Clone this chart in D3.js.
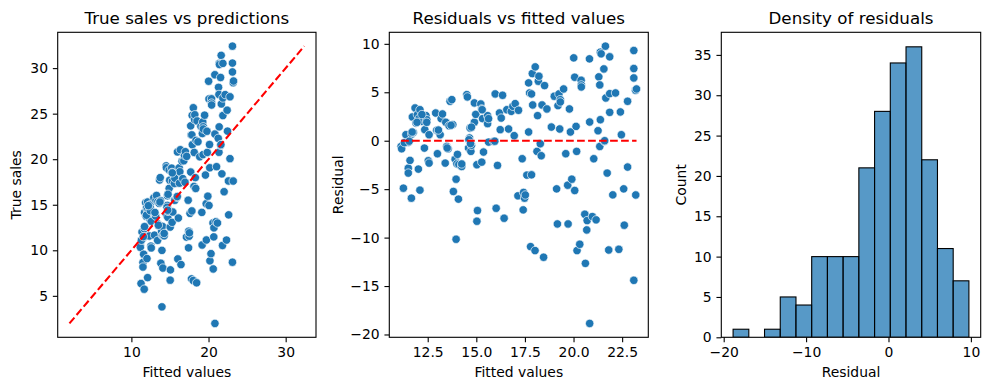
<!DOCTYPE html>
<html><head><meta charset="utf-8">
<script src="https://cdn.jsdelivr.net/npm/d3@7"></script>
<style>
body{margin:0;background:#fff}
text{font-family:"DejaVu Sans",sans-serif;fill:#000}
</style>
</head><body>
<svg id="c" width="989" height="390"></svg>
<script>
// ---- data ----
const fitted = [11.13,11.16,11.25,11.38,11.50,11.50,11.50,11.59,11.66,11.68,11.71,11.76,11.85,11.90,11.97,12.02,12.07,12.10,12.10,12.19,
12.33,12.35,12.41,12.45,12.53,12.57,12.57,12.91,12.96,13.00,13.05,13.14,13.19,13.26,13.40,13.43,13.48,13.55,13.60,13.65,
13.74,13.79,13.82,13.91,13.96,13.96,14.00,14.03,14.08,14.10,14.25,14.51,14.54,14.60,14.65,14.68,14.72,14.75,14.90,14.90,
14.97,15.03,15.06,15.03,15.23,15.27,15.28,15.32,15.37,15.58,15.58,15.63,15.63,15.89,15.97,16.02,16.09,16.19,16.23,16.28,
16.35,16.43,16.57,16.66,16.80,16.88,16.95,17.00,17.17,17.14,17.36,17.41,17.43,17.48,17.52,17.60,17.69,17.69,17.74,17.79,
17.84,17.84,17.88,17.90,18.03,18.02,18.12,18.15,18.19,18.22,18.29,18.34,18.38,18.46,18.51,18.63,18.86,19.01,19.13,19.17,
19.20,19.25,19.29,19.32,19.32,19.49,19.60,19.70,19.72,19.79,19.84,19.91,20.01,20.06,20.06,20.13,20.16,20.18,20.32,20.39,
20.40,20.40,20.58,20.61,20.68,20.70,20.82,20.83,20.83,20.97,21.04,21.16,21.26,21.30,21.35,21.35,21.38,21.42,21.38,21.56,
21.59,21.64,21.66,21.73,21.81,21.86,21.86,21.86,22.02,22.16,22.33,22.41,22.46,22.58,22.61,22.78,22.78,23.10,23.10,23.10,
23.10,23.19,23.24,23.20,14.25,11.30,13.50,14.62,14.70,15.95,11.55,21.60,11.70,11.95,12.45,13.05,13.70,14.75,12.20,15.30];

const residual = [-0.59,-0.83,-4.90,0.62,-0.17,-2.83,-3.34,-2.03,-5.93,0.69,2.45,0.86,3.38,1.83,2.69,-2.93,2.34,3.20,-5.10,2.00,
-0.76,1.14,2.59,2.17,-2.07,0.62,-2.31,2.86,1.07,-1.34,0.97,0.62,2.28,2.76,-2.31,1.90,-0.59,-0.83,1.55,4.07,
4.24,1.66,-5.24,-1.90,-3.97,-10.17,-2.38,-1.41,-6.03,-2.45,-2.66,4.76,4.52,-0.76,0.28,1.31,-1.10,-0.48,3.90,1.90,
2.72,-2.48,-7.21,-8.31,3.79,3.28,-2.21,2.28,-1.17,2.59,1.76,-0.14,2.28,-0.07,4.83,-6.97,-2.55,2.86,1.14,2.34,
4.69,-8.00,3.20,1.21,3.03,3.55,0.52,3.83,3.14,-5.69,-1.86,-7.14,-5.34,-5.93,-5.60,-3.55,5.97,0.90,4.93,-10.93,
4.83,-3.52,6.93,3.69,7.62,-11.34,-1.10,2.59,6.14,6.66,-0.31,-1.55,3.69,-12.03,5.69,3.28,1.41,4.59,-4.97,-8.59,
3.62,4.83,1.21,4.24,4.00,5.34,-1.34,-4.59,-8.59,3.28,0.90,-3.97,8.55,6.55,-5.14,1.48,-1.10,-11.34,-10.69,6.24,
5.76,5.55,-7.59,-12.66,-9.21,-8.24,8.45,1.93,-18.86,-7.83,-1.86,-8.17,1.03,6.59,-0.59,5.76,9.14,8.97,2.17,7.41,
-0.07,9.76,4.41,-3.34,-11.28,8.66,2.93,4.86,-5.59,4.93,-11.21,2.97,0.62,-4.97,-8.72,-2.72,4.07,9.31,7.45,6.48,
-14.41,5.21,5.34,-5.60,-2.40,-0.20,-0.75,0.10,-0.30,-0.05,-0.05,0.00,0.90,1.90,1.90,1.10,1.60,1.40,2.70,3.20];

const trueSales = fitted.map((f, i) => f + residual[i]);

const histCounts = [1,0,1,5,4,10,10,10,21,28,34,36,22,11,7];

const titles = ["True sales vs predictions", "Residuals vs fitted values", "Density of residuals"];
const xLabels = ["Fitted values", "Fitted values", "Residual"];
const yLabels = ["True sales", "Residual", "Count"];
const p1XTicks = [10, 20, 30];
const p1YTicks = [5, 10, 15, 20, 25, 30];
const p2XTicks = [12.5, 15, 17.5, 20, 22.5];
const p2YTicks = [-20, -15, -10, -5, 0, 5, 10];
const p3XTicks = [-20, -10, 0, 10];
const p3YTicks = [0, 5, 10, 15, 20, 25, 30, 35];

// ---- layout ----
const svg = d3.select("#c");
const TOP = 32.3, BOTTOM = 337.3;
const panels = [{l: 57.7, r: 316}, {l: 389.3, r: 648.3}, {l: 721.3, r: 980.7}];
const TICK = 4.86, PAD = 4.86, LW = 1.1;
const BLUE = "#1f77b4";

function pad(ext) { const m = (ext[1] - ext[0]) * 0.05; return [ext[0] - m, ext[1] + m]; }

function axes(i, xs, ys, xt, yt, xfmt, yfmt) {
  const p = panels[i];
  const g = svg.append("g");
  const gx = g.append("g").attr("transform", `translate(0,${BOTTOM})`)
    .call(d3.axisBottom(xs).tickValues(xt).tickFormat(xfmt).tickSize(TICK).tickPadding(PAD));
  const gy = g.append("g").attr("transform", `translate(${p.l},0)`)
    .call(d3.axisLeft(ys).tickValues(yt).tickFormat(yfmt).tickSize(TICK).tickPadding(PAD));
  [gx, gy].forEach(a => {
    a.select(".domain").remove();
    a.selectAll("line").attr("stroke", "#000").attr("stroke-width", LW);
    a.selectAll("text").attr("font-size", "13.9px").attr("font-family", "DejaVu Sans").attr("fill", "#000");
  });
  svg.append("rect").attr("x", p.l).attr("y", TOP).attr("width", p.r - p.l).attr("height", BOTTOM - TOP)
    .attr("fill", "none").attr("stroke", "#000").attr("stroke-width", LW);
  const cx = (p.l + p.r) / 2;
  svg.append("text").attr("x", cx).attr("y", 24).attr("text-anchor", "middle").attr("font-size", "16.7px").text(titles[i]);
  svg.append("text").attr("x", cx).attr("y", 377).attr("text-anchor", "middle").attr("font-size", "13.9px").text(xLabels[i]);
  return g;
}

function plotArea(i) {
  const p = panels[i];
  const id = "clip" + i;
  svg.append("clipPath").attr("id", id).append("rect")
    .attr("x", p.l).attr("y", TOP).attr("width", p.r - p.l).attr("height", BOTTOM - TOP);
  return svg.append("g").attr("clip-path", `url(#${id})`);
}

function ylabel(x, text) {
  svg.append("text").attr("transform", `translate(${x},${(TOP + BOTTOM) / 2}) rotate(-90)`)
    .attr("text-anchor", "middle").attr("font-size", "13.9px").text(text);
}

// ---- panel 1: true vs predicted ----
{
  const lo = Math.min(d3.min(trueSales), d3.min(fitted));
  const hi = Math.max(d3.max(trueSales), d3.max(fitted));
  const dom = pad([lo, hi]);
  const x = d3.scaleLinear().domain(dom).range([panels[0].l, panels[0].r]);
  const y = d3.scaleLinear().domain(dom).range([BOTTOM, TOP]);
  const g = plotArea(0);
  g.selectAll("circle").data(fitted).join("circle")
    .attr("cx", d => x(d)).attr("cy", (d, i) => y(trueSales[i])).attr("r", 4.2)
    .attr("fill", BLUE).attr("stroke", "#fff").attr("stroke-width", 0.67);
  g.append("line").attr("x1", x(lo)).attr("y1", y(lo)).attr("x2", x(hi)).attr("y2", y(hi))
    .attr("stroke", "red").attr("stroke-width", 2.08).attr("stroke-dasharray", "7.7,3.3");
  axes(0, x, y, p1XTicks, p1YTicks, d3.format("d"), d3.format("d"));
  ylabel(20.5, yLabels[0]);
}

// ---- panel 2: residuals vs fitted ----
{
  const x = d3.scaleLinear().domain(pad(d3.extent(fitted))).range([panels[1].l, panels[1].r]);
  const y = d3.scaleLinear().domain(pad(d3.extent(residual))).range([BOTTOM, TOP]);
  const g = plotArea(1);
  g.selectAll("circle").data(fitted).join("circle")
    .attr("cx", d => x(d)).attr("cy", (d, i) => y(residual[i])).attr("r", 4.2)
    .attr("fill", BLUE).attr("stroke", "#fff").attr("stroke-width", 0.67);
  const fe = d3.extent(fitted);
  g.append("line").attr("x1", x(fe[0])).attr("y1", y(0)).attr("x2", x(fe[1])).attr("y2", y(0))
    .attr("stroke", "red").attr("stroke-width", 2.08).attr("stroke-dasharray", "7.7,3.3");
  axes(1, x, y, p2XTicks, p2YTicks, d3.format(".1f"), d3.format("d"));
  ylabel(343, yLabels[1]);
}

// ---- panel 3: histogram of residuals ----
{
  const re = d3.extent(residual);
  const n = histCounts.length;
  const w = (re[1] - re[0]) / n;
  const bins = histCounts.map((c, i) => ({x0: re[0] + i * w, x1: re[0] + (i + 1) * w, c}));
  const x = d3.scaleLinear().domain(pad(re)).range([panels[2].l, panels[2].r]);
  const y = d3.scaleLinear().domain([0, d3.max(histCounts) * 1.05]).range([BOTTOM, TOP]);
  const g = plotArea(2);
  g.selectAll("rect").data(bins.filter(b => b.c > 0)).join("rect")
    .attr("x", b => x(b.x0)).attr("width", b => x(b.x1) - x(b.x0))
    .attr("y", b => y(b.c)).attr("height", b => y(0) - y(b.c))
    .attr("fill", BLUE).attr("fill-opacity", 0.75)
    .attr("stroke", "#000").attr("stroke-width", 1.1);
  axes(2, x, y, p3XTicks, p3YTicks, d3.format("d"), d3.format("d"));
  ylabel(686, yLabels[2]);
}
</script>
</body></html>
